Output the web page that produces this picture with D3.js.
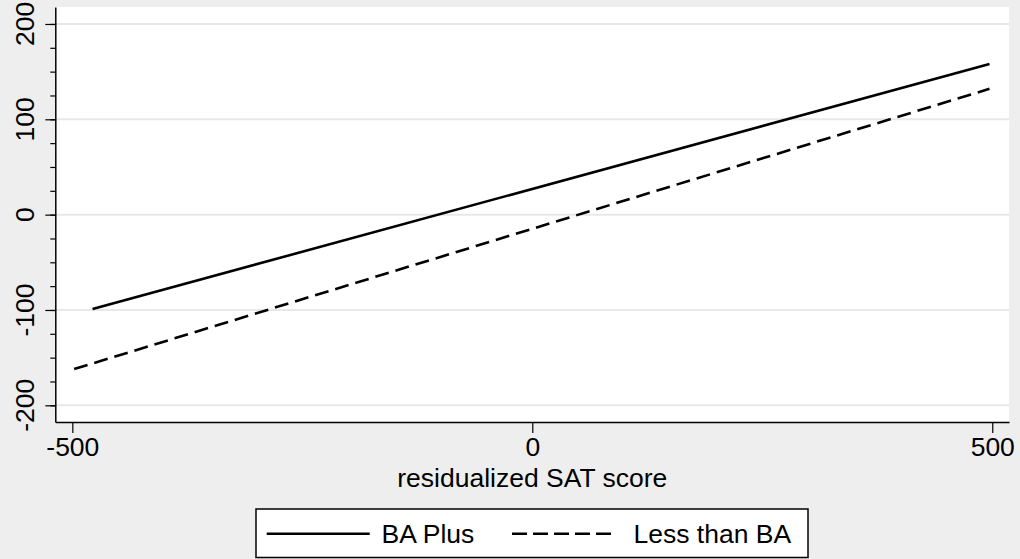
<!DOCTYPE html>
<html>
<head>
<meta charset="utf-8">
<script src="https://cdn.jsdelivr.net/npm/d3@7"></script>
<style>
  body { margin: 0; background: #eeeeee; }
  svg { display: block; font-family: "Liberation Sans", Arial, sans-serif; }
</style>
</head>
<body>
<svg id="chart" width="1020" height="559"></svg>
<script>
/* global d3 */

// fitted lines, endpoints
var seriesNames = ['BA Plus', 'Less than BA']
var baPlus = [{x: -478, y: -99}, {x: 497, y: 158}]
var lessBA = [{x: -498, y: -162}, {x: 497, y: 132}]
var xTicks = [-500, 0, 500]
var yTicks = [-200, -100, 0, 100, 200]
var yMinor = d3.range(-200, 201, 25)

;(function () {
  var W = 1020
  var H = 559
  var fs = 26.5
  var plot = {left: 55.3, right: 1009, top: 7, bottom: 422}

  var svg = d3.select('#chart')

  svg.append('rect')
      .attr('width', W).attr('height', H)
      .attr('fill', '#eeeeee')

  var x = d3.scaleLinear().domain([-518.5, 518.2]).range([plot.left, plot.right])
  var y = d3.scaleLinear().domain([-217.5, 217.8]).range([plot.bottom, plot.top])

  // plot region
  svg.append('rect')
      .attr('x', plot.left).attr('y', plot.top)
      .attr('width', plot.right - plot.left)
      .attr('height', plot.bottom - plot.top)
      .attr('fill', '#ffffff')

  // grid
  svg.append('g')
      .selectAll('line')
      .data(yTicks)
      .join('line')
      .attr('x1', plot.left).attr('x2', plot.right)
      .attr('y1', d => y(d)).attr('y2', d => y(d))
      .attr('stroke', '#e8e8e8')
      .attr('stroke-width', 2)

  /*
      --------------------------------------
      Axes
  */
  var yMinorAxis = svg.append('g')
      .attr('transform', `translate(${plot.left},0)`)
      .call(d3.axisLeft(y).tickValues(yMinor).tickSize(5).tickFormat(''))
  yMinorAxis.select('.domain').remove()

  var yAxis = svg.append('g')
      .attr('transform', `translate(${plot.left},0)`)
      .call(d3.axisLeft(y).tickValues(yTicks).tickSize(10).tickSizeOuter(0))
  yAxis.selectAll('text').remove()

  // rotated y labels
  svg.append('g')
      .selectAll('text')
      .data(yTicks)
      .join('text')
      .attr('transform', d => `translate(34,${y(d)}) rotate(-90)`)
      .attr('text-anchor', 'middle')
      .attr('font-size', fs)
      .attr('fill', '#000')
      .text(d => String(d))

  var xAxis = svg.append('g')
      .attr('transform', `translate(0,${plot.bottom})`)
      .call(d3.axisBottom(x).tickValues(xTicks).tickSize(11).tickSizeOuter(0)
          .tickPadding(4).tickFormat(d => String(d)))
  xAxis.selectAll('text')
      .attr('font-size', fs)
      .attr('fill', '#000')

  svg.selectAll('.domain')
      .attr('stroke', '#000')
      .attr('stroke-width', 1.5)
  svg.selectAll('.tick line')
      .attr('stroke', '#000')
      .attr('stroke-width', 1.2)

  svg.append('text')
      .attr('x', x(0)).attr('y', 487)
      .attr('text-anchor', 'middle')
      .attr('font-size', fs)
      .text('residualized SAT score')

  /*
      --------------------------------------
      Lines
  */
  var line = d3.line().x(d => x(d.x)).y(d => y(d.y))
  var dashes = ['none', '14,7']

  svg.append('g')
      .selectAll('path')
      .data([baPlus, lessBA])
      .join('path')
      .attr('d', line)
      .attr('fill', 'none')
      .attr('stroke', '#000')
      .attr('stroke-width', 2.6)
      .attr('stroke-dasharray', (d, i) => dashes[i])

  /*
      --------------------------------------
      Legend
  */
  var lg = svg.append('g')
  lg.append('rect')
      .attr('x', 256).attr('y', 509)
      .attr('width', 552).attr('height', 48.5)
      .attr('fill', '#fff')
      .attr('stroke', '#000')
      .attr('stroke-width', 1.5)

  var items = [{x0: 266.7, tx: 381.5}, {x0: 512, tx: 633.5}]
  items.forEach((it, i) => {
    lg.append('line')
        .attr('x1', it.x0).attr('x2', it.x0 + 103)
        .attr('y1', 533.7).attr('y2', 533.7)
        .attr('stroke', '#000')
        .attr('stroke-width', 2.6)
        .attr('stroke-dasharray', i ? '15,6' : 'none')
    lg.append('text')
        .attr('x', it.tx).attr('y', 543)
        .attr('font-size', fs)
        .text(seriesNames[i])
  })
})()
</script>
</body>
</html>
